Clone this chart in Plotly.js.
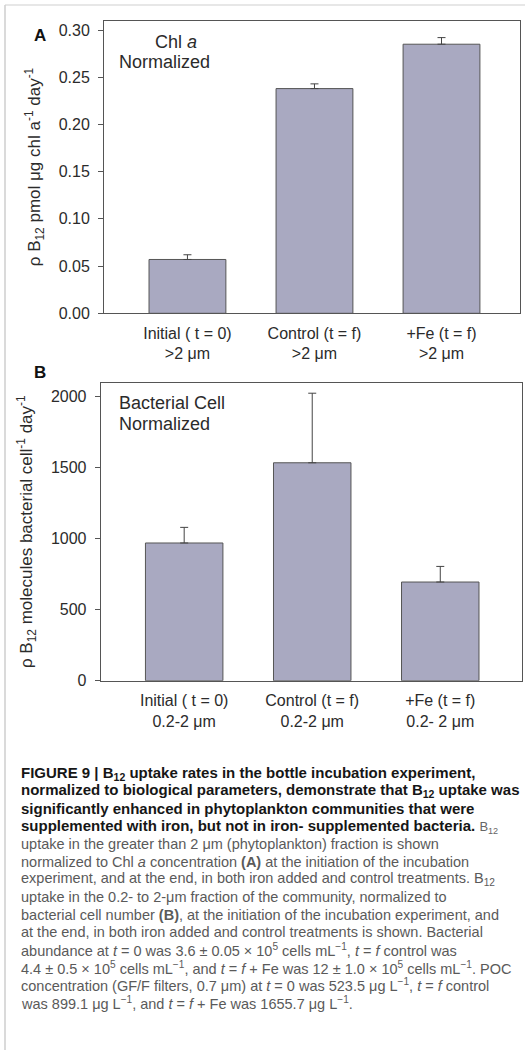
<!DOCTYPE html>
<html>
<head>
<meta charset="utf-8">
<script src="https://cdn.plot.ly/plotly-3.0.1.min.js"></script>
<style>
  html, body { margin: 0; padding: 0; background: #ffffff; }
  #fig { width: 525px; height: 1055px; }
</style>
</head>
<body>
<div id="fig"></div>
<script>
// Treatments (shared by both panels)
const treatments = ["Initial ( t = 0)", "Control (t = f)", "+Fe (t = f)"];
// Size fractions shown under each treatment
const fractionsA = ["&gt;2 μm", "&gt;2 μm", "&gt;2 μm"];
const fractionsB = ["0.2-2 μm", "0.2-2 μm", "0.2- 2 μm"];

// Panel A: uptake normalized to Chl a (pmol µg chl a-1 day-1)
const uptakeChl = [0.057, 0.238, 0.285];
const uptakeChlErr = [0.005, 0.005, 0.007];

// Panel B: uptake normalized to bacterial cells (molecules cell-1 day-1)
const uptakeCell = [970, 1535, 695];
const uptakeCellErr = [110, 490, 110];

// Axis tick values
const ticksA = [0, 0.05, 0.10, 0.15, 0.20, 0.25, 0.30];
const ticksB = [0, 500, 1000, 1500, 2000];

// Figure caption, one entry per printed line
const captionLines = [
  "<b>FIGURE 9 | B<sub>12</sub> uptake rates in the bottle incubation experiment,</b>",
  "<b>normalized to biological parameters, demonstrate that B<sub>12</sub> uptake was</b>",
  "<b>significantly enhanced in phytoplankton communities that were</b>",
  "<b>supplemented with iron, but not in iron- supplemented bacteria.</b> <span style='color:#666;font-size:13px'>B<sub>12</sub></span>",
  "uptake in the greater than 2 μm (phytoplankton) fraction is shown",
  "normalized to Chl <i>a</i> concentration <b>(A)</b> at the initiation of the incubation",
  "experiment, and at the end, in both iron added and control treatments. B<sub>12</sub>",
  "uptake in the 0.2- to 2-μm fraction of the community, normalized to",
  "bacterial cell number <b>(B)</b>, at the initiation of the incubation experiment, and",
  "at the end, in both iron added and control treatments is shown. Bacterial",
  "abundance at <i>t</i> = 0 was 3.6 ± 0.05 × 10<sup>5</sup> cells mL<sup>−1</sup>, <i>t</i> = <i>f</i> control was",
  "4.4 ± 0.5 × 10<sup>5</sup> cells mL<sup>−1</sup>, and <i>t</i> = <i>f</i> + Fe was 12 ± 1.0 × 10<sup>5</sup> cells mL<sup>−1</sup>. POC",
  "concentration (GF/F filters, 0.7 μm) at <i>t</i> = 0 was 523.5 μg L<sup>−1</sup>, <i>t</i> = <i>f</i> control",
  "was 899.1 μg L<sup>−1</sup>, and <i>t</i> = <i>f</i> + Fe was 1655.7 μg L<sup>−1</sup>."
];
const boldLineCount = 4;

// ---- page geometry helpers (pixel -> paper fraction) ----
const W = 525, H = 1055;
const fx = p => p / W;
const fy = p => 1 - p / H;

const FONT = "Liberation Sans, Arial, Helvetica, sans-serif";
const INK = "#2b2b2b";
const BAR = "#a9a9c1";
const EDGE = "#555555";

const xIdx = treatments.map((_, i) => i);
const labelsA = treatments.map((t, i) => t + "<br>" + fractionsA[i]);
const labelsB = treatments.map((t, i) => t + "<br>" + fractionsB[i]);

const barStyle = {
  type: "bar",
  width: 0.605,
  marker: { color: BAR, line: { color: EDGE, width: 1 } },
  hoverinfo: "skip",
  showlegend: false
};

const traces = [
  Object.assign({}, barStyle, {
    x: xIdx, y: uptakeChl, xaxis: "x", yaxis: "y",
    error_y: { type: "data", symmetric: false, array: uptakeChlErr,
               arrayminus: uptakeChlErr.map(() => 0),
               color: "#444", thickness: 1, width: 4 }
  }),
  Object.assign({}, barStyle, {
    x: xIdx, y: uptakeCell, xaxis: "x2", yaxis: "y2",
    error_y: { type: "data", symmetric: false, array: uptakeCellErr,
               arrayminus: uptakeCellErr.map(() => 0),
               color: "#444", thickness: 1, width: 4 }
  })
];

const commonX = {
  tickvals: xIdx,
  showline: true, linecolor: EDGE, linewidth: 1, mirror: true,
  ticks: "", showgrid: false, zeroline: false,
  ticklabelstandoff: 5,
  tickfont: { family: FONT, size: 16, color: INK },
  fixedrange: true
};
const commonY = {
  showline: true, linecolor: EDGE, linewidth: 1, mirror: true,
  ticks: "outside", ticklen: 5, tickcolor: EDGE, tickwidth: 1,
  showgrid: false, zeroline: false,
  ticklabelstandoff: 5,
  tickfont: { family: FONT, size: 16, color: INK },
  fixedrange: true
};

const annotations = [
  { text: "<b>A</b>", x: fx(40), y: fy(35) },
  { text: "<b>B</b>", x: fx(40), y: fy(372) },
].map(a => Object.assign(a, {
  xref: "paper", yref: "paper", xanchor: "center", yanchor: "middle",
  showarrow: false, font: { family: FONT, size: 17, color: "#111" }
}));

// In-panel labels
[
  { text: "Chl <i>a</i>", x: 153, y: 42 },
  { text: "Normalized", x: 117, y: 62 },
  { text: "Bacterial Cell", x: 117, y: 403 },
  { text: "Normalized", x: 117, y: 424 }
].forEach(l => annotations.push({
  text: l.text, xref: "paper", yref: "paper",
  x: fx(l.x), y: fy(l.y), xanchor: "left", yanchor: "middle",
  showarrow: false, font: { family: FONT, size: 18, color: INK }
}));

// Caption lines
const capTop = 773, capStep = 17.7;
captionLines.forEach((line, i) => annotations.push({
  text: line, xref: "paper", yref: "paper",
  x: fx(19), y: fy(capTop + i * capStep), xanchor: "left", yanchor: "middle",
  showarrow: false, align: "left",
  font: { family: FONT, size: i < boldLineCount ? 15 : 14.5,
          color: i < boldLineCount ? "#161616" : "#5a5a5a" }
}));

const layout = {
  width: W, height: H,
  margin: { l: 0, r: 0, t: 0, b: 0 },
  paper_bgcolor: "#ffffff", plot_bgcolor: "#ffffff",
  font: { family: FONT, color: INK },
  showlegend: false,
  bargap: 0,
  xaxis: Object.assign({}, commonX, {
    domain: [fx(104), fx(520)], range: [-0.657, 2.618],
    ticktext: labelsA, anchor: "y"
  }),
  yaxis: Object.assign({}, commonY, {
    domain: [fy(313.3), fy(20.7)], range: [0, 0.3099],
    tickvals: ticksA, ticktext: ticksA.map(v => v.toFixed(2)), anchor: "x",
    title: { text: "ρ B<sub>12</sub> pmol μg chl a<sup>-1</sup> day<sup>-1</sup>",
             font: { family: FONT, size: 17, color: INK }, standoff: 13 }
  }),
  xaxis2: Object.assign({}, commonX, {
    domain: [fx(100.7), fx(521.7)], range: [-0.652, 2.636],
    ticktext: labelsB, anchor: "y2"
  }),
  yaxis2: Object.assign({}, commonY, {
    domain: [fy(680.7), fy(382.7)], range: [0, 2099],
    tickvals: ticksB, ticktext: ticksB.map(String), anchor: "x2",
    title: { text: "ρ B<sub>12</sub> molecules bacterial cell<sup>-1</sup> day<sup>-1</sup>",
             font: { family: FONT, size: 17, color: INK }, standoff: 13 }
  }),
  annotations: annotations,
  shapes: [
    { type: "line", xref: "paper", yref: "paper",
      x0: fx(5), x1: fx(5), y0: fy(5), y1: fy(1050),
      line: { color: "#b5b5b5", width: 1 } },
    { type: "line", xref: "paper", yref: "paper",
      x0: fx(5), x1: 1, y0: fy(5), y1: fy(5),
      line: { color: "#cfcfcf", width: 1 } }
  ]
};

Plotly.newPlot("fig", traces, layout, { staticPlot: true, displayModeBar: false });
</script>
</body>
</html>
